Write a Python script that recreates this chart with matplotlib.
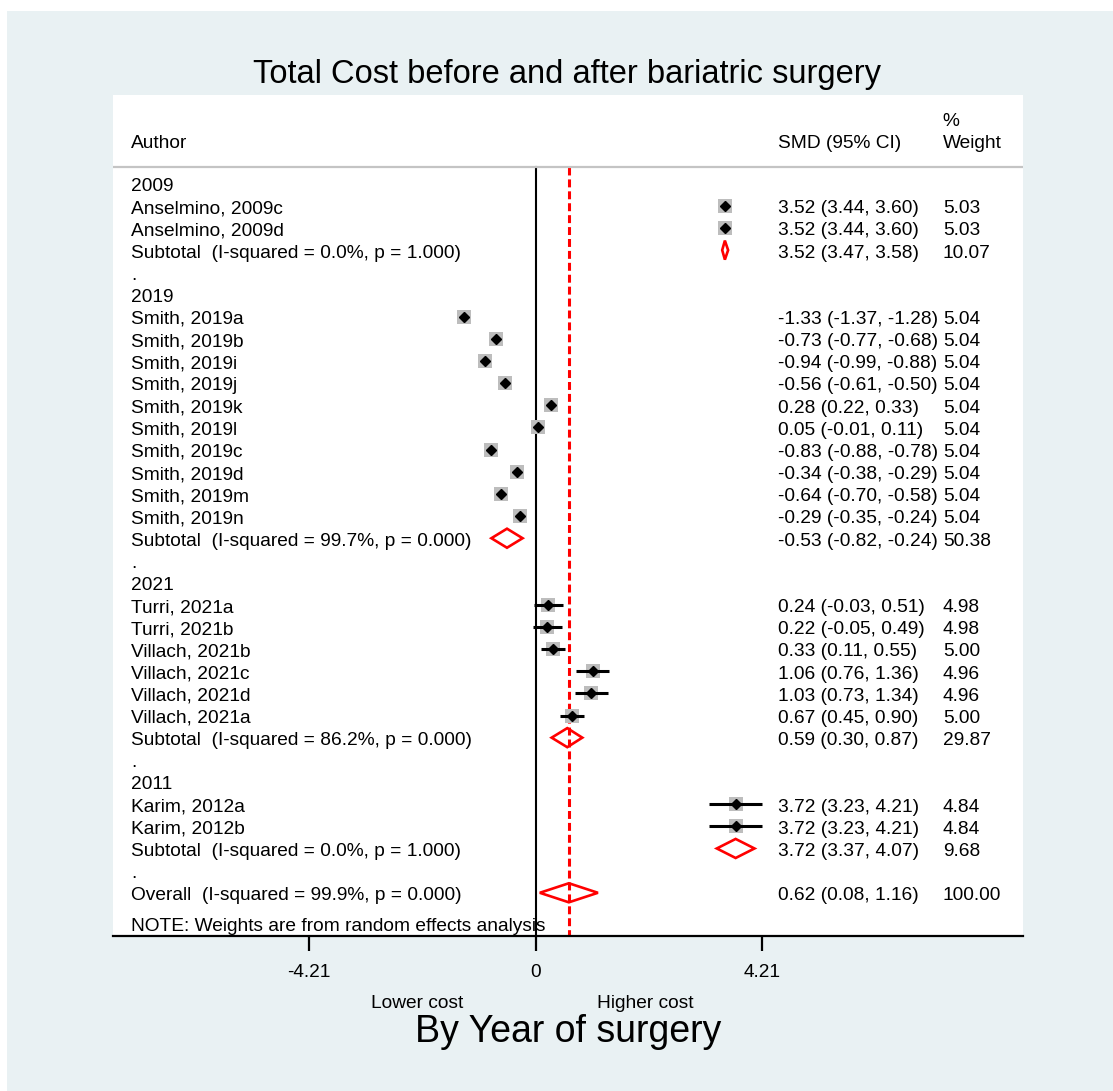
import matplotlib
matplotlib.use("Agg")
import matplotlib.pyplot as plt
from matplotlib.patches import Polygon, Rectangle
import numpy as np

plt.rcParams["font.family"] = ["Liberation Sans", "DejaVu Sans"]

# study-level rows, top to bottom
labels = [
    "2009", "Anselmino, 2009c", "Anselmino, 2009d",
    "Subtotal  (I-squared = 0.0%, p = 1.000)", ".",
    "2019", "Smith, 2019a", "Smith, 2019b", "Smith, 2019i", "Smith, 2019j",
    "Smith, 2019k", "Smith, 2019l", "Smith, 2019c", "Smith, 2019d",
    "Smith, 2019m", "Smith, 2019n",
    "Subtotal  (I-squared = 99.7%, p = 0.000)", ".",
    "2021", "Turri, 2021a", "Turri, 2021b", "Villach, 2021b", "Villach, 2021c",
    "Villach, 2021d", "Villach, 2021a",
    "Subtotal  (I-squared = 86.2%, p = 0.000)", ".",
    "2011", "Karim, 2012a", "Karim, 2012b",
    "Subtotal  (I-squared = 0.0%, p = 1.000)", ".",
    "Overall  (I-squared = 99.9%, p = 0.000)",
]
# kind: h = heading, s = study, p = pooled, b = blank
kinds = (["h", "s", "s", "p", "b", "h"] + ["s"] * 10 + ["p", "b", "h"]
         + ["s"] * 6 + ["p", "b", "h", "s", "s", "p", "b", "p"])
est = [None, 3.52, 3.52, 3.52, None,
       None, -1.33, -0.73, -0.94, -0.56, 0.28, 0.05, -0.83, -0.34, -0.64, -0.29,
       -0.53, None,
       None, 0.24, 0.22, 0.33, 1.06, 1.03, 0.67, 0.59, None,
       None, 3.72, 3.72, 3.72, None, 0.62]
lo = [None, 3.44, 3.44, 3.47, None,
      None, -1.37, -0.77, -0.99, -0.61, 0.22, -0.01, -0.88, -0.38, -0.70, -0.35,
      -0.82, None,
      None, -0.03, -0.05, 0.11, 0.76, 0.73, 0.45, 0.30, None,
      None, 3.23, 3.23, 3.37, None, 0.08]
hi = [None, 3.60, 3.60, 3.58, None,
      None, -1.28, -0.68, -0.88, -0.50, 0.33, 0.11, -0.78, -0.29, -0.58, -0.24,
      -0.24, None,
      None, 0.51, 0.49, 0.55, 1.36, 1.34, 0.90, 0.87, None,
      None, 4.21, 4.21, 4.07, None, 1.16]
weights = [None, 5.03, 5.03, 10.07, None,
           None] + [5.04] * 10 + [50.38, None,
           None, 4.98, 4.98, 5.00, 4.96, 4.96, 5.00, 29.87, None,
           None, 4.84, 4.84, 9.68, None, 100.00]
overall = 0.62
ticks = [-4.21, 0, 4.21]

W, H = 1113, 1091
fig = plt.figure(figsize=(W / 100, H / 100), dpi=100, facecolor="white")
fig.add_artist(Rectangle((7 / W, 0), 1, 1 - 11 / H, transform=fig.transFigure,
                         facecolor="#E9F1F3", edgecolor="none", zorder=-10))

ax = fig.add_axes([113 / W, 1 - 936 / H, (1023 - 113) / W, (936 - 95) / H])
ax.set_facecolor("white")
ax.set_xlim(-7.853, 9.061)
ax.set_ylim(33.95, -4.0)
for side in ["top", "left", "right"]:
    ax.spines[side].set_visible(False)
ax.spines["bottom"].set_linewidth(1.6)
ax.set_yticks([])
ax.set_xticks(ticks)
ax.set_xticklabels(["-4.21", "0", "4.21"])
ax.tick_params(axis="x", length=11, width=1.6, pad=9, labelsize=13.7)

fs = 13.8
dy = 0.13  # text sits a touch below the marker centre line
x_lab, x_smd, x_wt = -7.52, 4.507, 7.57

# header
ax.text(x_lab, -1.93 + dy, "Author", fontsize=fs, va="center")
ax.text(x_smd, -1.93 + dy, "SMD (95% CI)", fontsize=fs, va="center")
ax.text(x_wt, -1.93 + dy, "Weight", fontsize=fs, va="center")
ax.text(x_wt, -2.93 + dy, "%", fontsize=fs, va="center")
ax.axhline(-0.75, color="#C4C4C4", lw=1.6)

# reference lines
ax.plot([0, 0], [-0.75, 33.95], color="black", lw=1.5, zorder=1)
ax.plot([overall, overall], [-0.75, 33.95], color="red", lw=2.2,
        dashes=(2.6, 1.3), zorder=1)

for i, (lab, k) in enumerate(zip(labels, kinds)):
    ax.text(x_lab, i + dy, lab, fontsize=fs, va="center")
    if k in ("s", "p"):
        ax.text(x_smd, i + dy, f"{est[i]:.2f} ({lo[i]:.2f}, {hi[i]:.2f})",
                fontsize=fs, va="center")
        ax.text(x_wt, i + dy, f"{weights[i]:.2f}", fontsize=fs, va="center")
    if k == "s":
        ax.scatter([est[i]], [i], marker="s", s=weights[i] * 23,
                   color="#BDBDBD", zorder=2, linewidths=0)
        ax.plot([lo[i], hi[i]], [i, i], color="black", lw=2.2,
                solid_capstyle="butt", zorder=3)
        ax.plot([est[i]], [i], marker="D", ms=5.6, color="black", zorder=4)
    elif k == "p":
        h = 0.43
        ax.add_patch(Polygon([[lo[i], i], [est[i], i - h], [hi[i], i],
                              [est[i], i + h]], closed=True, fill=False,
                             edgecolor="red", lw=1.9, zorder=4))

ax.text(x_lab, 33.4 + dy, "NOTE: Weights are from random effects analysis",
        fontsize=fs, va="center")

fig.text(567 / W, 1 - 75 / H, "Total Cost before and after bariatric surgery",
         fontsize=23.5, ha="center", va="center")
fig.text(417 / W, 1 - 1003 / H, "Lower cost", fontsize=fs, ha="center", va="center")
fig.text(645 / W, 1 - 1003 / H, "Higher cost", fontsize=fs, ha="center", va="center")
fig.text(568 / W, 1 - 1032 / H, "By Year of surgery", fontsize=27,
         ha="center", va="center")

fig.savefig("out.png", dpi=100, facecolor=fig.get_facecolor())
plt.close(fig)
